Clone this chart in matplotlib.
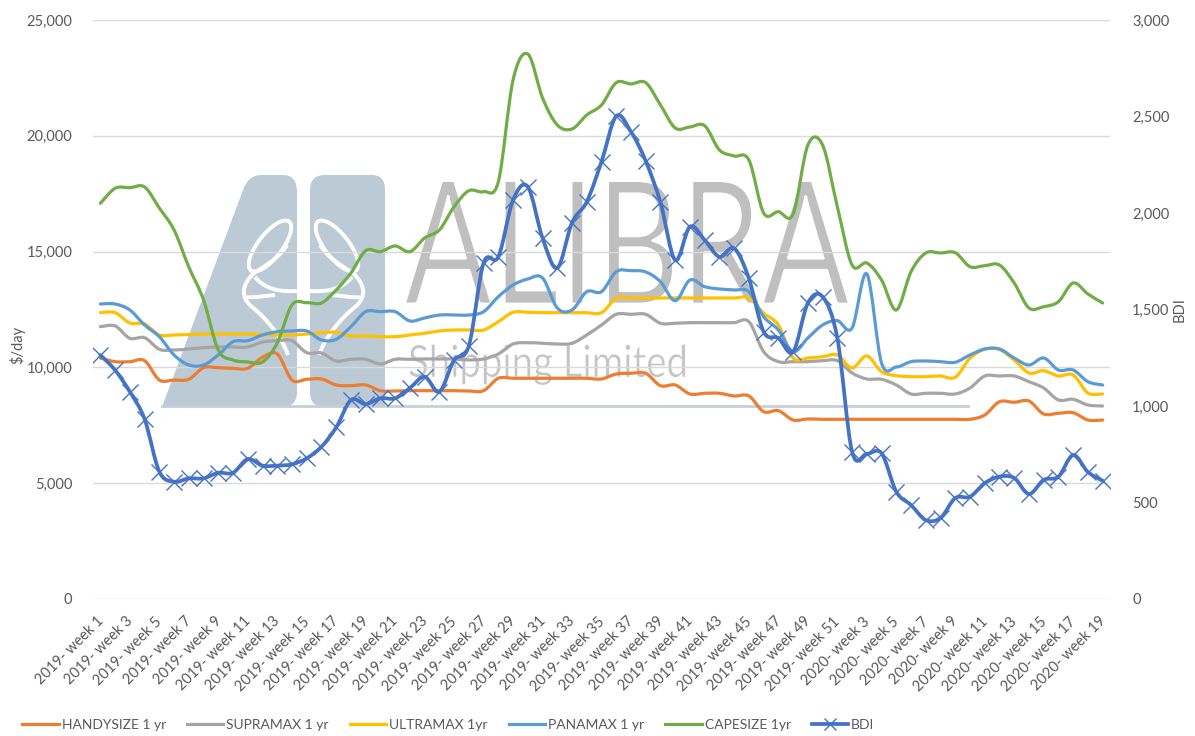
import numpy as np
import matplotlib
matplotlib.use('Agg')
import matplotlib.pyplot as plt
from matplotlib.lines import Line2D
from matplotlib.patches import PathPatch, Ellipse
from matplotlib.path import Path
from matplotlib.patheffects import AbstractPathEffect
from matplotlib.ticker import FuncFormatter
from matplotlib.transforms import Affine2D, ScaledTranslation

plt.rcParams['font.family'] = ['Lato', 'DejaVu Sans']

weeks = [f'2019- week {w}' for w in range(1, 53)] + [f'2020- week {w}' for w in range(3, 20)]

handysize = [10406, 10247, 10247, 10290, 9456, 9456, 9487, 9988, 9988, 9962,
             9962, 10437, 10579, 9456, 9487, 9500, 9241, 9211, 9241, 8994,
             8981, 8994, 8994, 8994, 8994, 8981, 8994, 9530, 9530, 9530,
             9530, 9530, 9530, 9530, 9500, 9715, 9746, 9746, 9211, 9241,
             8852, 8882, 8882, 8766, 8766, 8088, 8131, 7729, 7772, 7759,
             7759, 7759, 7759, 7759, 7759, 7759, 7759, 7759, 7759, 7759,
             7945, 8519, 8493, 8550, 7988, 8019, 8044, 7729, 7729]

supramax = [11758, 11788, 11257, 11283, 10782, 10752, 10795, 10851, 10881, 10881,
            10881, 11097, 11153, 11153, 10635, 10622, 10277, 10350, 10350, 10147,
            10350, 10350, 10363, 10363, 10363, 10320, 10363, 10579, 11011, 11067,
            11041, 11011, 11041, 11400, 11831, 12293, 12293, 12293, 11905, 11905,
            11931, 11931, 11931, 11931, 11974, 10678, 10247, 10247, 10247, 10290,
            10290, 9759, 9500, 9487, 9241, 8852, 8882, 8882, 8852, 9111,
            9629, 9629, 9629, 9383, 9111, 8593, 8623, 8377, 8334]

ultramax = [12362, 12362, 11918, 11875, 11400, 11400, 11420, 11440, 11440, 11440,
            11440, 11420, 11400, 11400, 11440, 11500, 11516, 11356, 11356, 11326,
            11326, 11400, 11473, 11572, 11615, 11615, 11615, 11974, 12380, 12380,
            12362, 12362, 12362, 12362, 12362, 12984, 12997, 12997, 12997, 12997,
            12997, 12997, 12997, 12997, 12997, 12336, 11831, 10406, 10406, 10463,
            10536, 9975, 10493, 9815, 9642, 9600, 9600, 9629, 9573, 10394,
            10780, 10770, 10320, 9759, 9858, 9629, 9672, 8895, 8852]

panamax = [12738, 12738, 12479, 11831, 11326, 10536, 10104, 10104, 10536, 11110,
           11153, 11400, 11542, 11572, 11572, 11184, 11214, 11758, 12406, 12406,
           12406, 12004, 12134, 12263, 12263, 12263, 12406, 13053, 13559, 13818,
           13861, 12565, 12479, 13269, 13269, 14133, 14176, 14120, 13701, 12881,
           13774, 13485, 13386, 13343, 13269, 12190, 11615, 10678, 11270, 11831,
           12017, 11702, 14034, 10190, 10018, 10247, 10277, 10247, 10221, 10536,
           10795, 10795, 10406, 10104, 10406, 9888, 9888, 9383, 9241]

capesize = [17086, 17734, 17760, 17790, 16883, 15933, 14336, 12911, 10752, 10320,
            10234, 10234, 11054, 12695, 12794, 12781, 13343, 14077, 15040, 14997,
            15243, 14997, 15588, 15933, 16940, 17630, 17587, 18019, 22410, 23533,
            21633, 20467, 20295, 20899, 21331, 22294, 22238, 22294, 21331, 20338,
            20381, 20437, 19388, 19129, 18956, 16667, 16724, 16624, 19600, 19600,
            16940, 14422, 14508, 13774, 12479, 14133, 14940, 14940, 14953, 14349,
            14392, 14422, 13645, 12565, 12621, 12838, 13645, 13170, 12781]

bdi = [1264, 1186, 1074, 932, 660, 608, 625, 625, 654, 654,
       725, 691, 691, 698, 729, 789, 889, 1031, 1010, 1040,
       1040, 1093, 1152, 1074, 1238, 1312, 1741, 1773, 2067, 2136,
       1870, 1715, 1950, 2058, 2266, 2502, 2421, 2269, 2055, 1756,
       1929, 1860, 1773, 1817, 1661, 1385, 1352, 1281, 1533, 1566,
       1352, 763, 752, 755, 556, 487, 409, 420, 523, 530,
       600, 634, 627, 544, 617, 634, 746, 658, 613]

names = ['HANDYSIZE 1 yr', 'SUPRAMAX 1 yr', 'ULTRAMAX 1yr', 'PANAMAX 1 yr', 'CAPESIZE 1yr']
colors = ['#ED7D31', '#A5A5A5', '#FFC000', '#5B9BD5', '#70AD47']
bdi_color = '#4472C4'
text_color = '#595959'


# the chart uses smoothed lines, same idea as the spreadsheet option
def smooth_path(x, y):
    pts = np.column_stack([x, y]).astype(float)
    before = np.vstack([pts[0], pts[:-1]])
    after = np.vstack([pts[1:], pts[-1]])
    tang = (after - before) / 6
    verts = [pts[0]]
    for i in range(len(pts) - 1):
        verts += [pts[i] + tang[i], pts[i + 1] - tang[i + 1], pts[i + 1]]
    codes = [Path.MOVETO] + [Path.CURVE4] * (len(verts) - 1)
    return Path(verts, codes)


# watermark font is narrow and thin: squeeze the glyphs and eat into them with a white edge
class ThinNarrow(AbstractPathEffect):
    def __init__(self, sx, x0, edge):
        super().__init__()
        self.sx, self.x0, self.edge = sx, x0, edge

    def draw_path(self, renderer, gc, tpath, affine, rgbFace=None):
        squeeze = Affine2D().translate(-self.x0, 0).scale(self.sx, 1).translate(self.x0, 0)
        gc0 = renderer.new_gc()
        gc0.copy_properties(gc)
        gc0.set_foreground('white')
        gc0.set_linewidth(self.edge)
        renderer.draw_path(gc0, tpath, affine + squeeze, rgbFace)
        gc0.restore()


fig = plt.figure(figsize=(11.95, 7.36), dpi=100, facecolor='white')

# watermark sits behind everything, in pixel coordinates
bg = fig.add_axes([0, 0, 1, 1], zorder=0)
bg.set_xlim(0, 1195)
bg.set_ylim(736, 0)
bg.axis('off')
logo = '#BCCAD5'
left_v = [(162, 407), (243, 190), (248, 175), (262, 175), (283, 175), (297, 175), (297, 192),
          (297, 392), (297, 407), (282, 407), (162, 407)]
left_c = [Path.MOVETO, Path.LINETO, Path.CURVE3, Path.CURVE3, Path.LINETO, Path.CURVE3, Path.CURVE3,
          Path.LINETO, Path.CURVE3, Path.CURVE3, Path.CLOSEPOLY]
bg.add_patch(PathPatch(Path(left_v, left_c), fc=logo, ec='none'))
right_v = [(310, 190), (310, 175), (325, 175), (372, 175), (385, 175), (385, 190),
           (385, 407), (324, 407), (310, 407), (310, 392), (310, 190)]
right_c = [Path.MOVETO, Path.CURVE3, Path.CURVE3, Path.LINETO, Path.CURVE3, Path.CURVE3,
           Path.LINETO, Path.LINETO, Path.CURVE3, Path.CURVE3, Path.CLOSEPOLY]
bg.add_patch(PathPatch(Path(right_v, right_c), fc=logo, ec='none'))
# ribbon knot in the logo, left side then mirrored
ribbons = [[(287, 245), (278, 260), (262, 267), (253, 274), (242, 285), (240, 297), (252, 307),
            (265, 317), (282, 337), (288, 355)],
           [(255, 277), (265, 290), (282, 292), (297, 291)],
           [(243, 297), (258, 298), (262, 296), (275, 295)]]
for r in ribbons:
    codes = [Path.MOVETO] + [Path.CURVE4] * (len(r) - 1)
    bg.add_patch(PathPatch(Path(r, codes), fc='none', ec='white', lw=2.8))
    mirrored = [(607 - a, b) for a, b in r]
    bg.add_patch(PathPatch(Path(mirrored, codes), fc='none', ec='white', lw=2.8))
bg.add_patch(Ellipse((270, 246), 24, 62, angle=-142, fc='none', ec='white', lw=2.8))
bg.add_patch(Ellipse((337, 246), 24, 62, angle=142, fc='none', ec='white', lw=2.8))
bg.plot([162, 968], [406, 406], color='#C6CFD7', lw=2)
bg.text(404, 304, 'ALIBRA', fontsize=124, color='#BFBFBF', ha='left', va='baseline',
        path_effects=[ThinNarrow(0.757, 404, 2.0)])
bg.text(408, 377, 'Shipping Limited', fontsize=32, color='#C4C4C4', ha='left', va='baseline',
        path_effects=[ThinNarrow(0.863, 408, 0.4)])

ax = fig.add_axes([93 / 1195, 1 - 599 / 736, (1110 - 93) / 1195, (599 - 20) / 736], zorder=1)
ax.patch.set_alpha(0)
x = np.arange(len(weeks))
for vals, col in zip([handysize, supramax, ultramax, panamax, capesize], colors):
    ax.add_patch(PathPatch(smooth_path(x, vals), fc='none', ec=col, lw=2.3, capstyle='round', zorder=3))

ax.set_xlim(-0.5, len(weeks) - 0.5)
ax.set_ylim(0, 25000)
ax.set_yticks(range(0, 25001, 5000))
ax.yaxis.set_major_formatter(FuncFormatter(lambda v, p: f'{int(v):,}'))
ax.set_xticks(x[::2])
ax.set_xticklabels(weeks[::2], rotation=45, ha='right', rotation_mode='anchor')
ax.grid(axis='y', color='#D9D9D9', lw=1)
ax.set_axisbelow(True)
ax.tick_params(axis='both', length=0, labelsize=10.5, labelcolor=text_color)
ax.tick_params(axis='x', pad=11)
ax.tick_params(axis='y', pad=15)
shift = ScaledTranslation(-3 / 72, 0, fig.dpi_scale_trans)
for lab in ax.get_xticklabels():
    lab.set_transform(lab.get_transform() + shift)
for s in ax.spines.values():
    s.set_visible(False)

ax2 = ax.twinx()
ax2.set_zorder(2)
ax2.patch.set_alpha(0)
ax2.add_patch(PathPatch(smooth_path(x, bdi), fc='none', ec=bdi_color, lw=2.7, capstyle='round', zorder=3))
ax2.plot(x, bdi, ls='none', marker='x', ms=11, mew=1, color=bdi_color, zorder=4)
ax2.set_ylim(0, 3000)
ax2.set_yticks(range(0, 3001, 500))
ax2.yaxis.set_major_formatter(FuncFormatter(lambda v, p: f'{int(v):,}'))
ax2.tick_params(axis='y', length=0, labelsize=10.5, labelcolor=text_color, pad=16)
for s in ax2.spines.values():
    s.set_visible(False)

fig.text(17 / 1195, 1 - 345 / 736, '$/day', rotation=90, fontsize=10.5, color=text_color, ha='center', va='center')
fig.text(1180 / 1195, 1 - 310 / 736, 'BDI', rotation=90, fontsize=10.5, color=text_color, ha='center', va='center')

handles = [Line2D([], [], color=c, lw=2.3) for c in colors]
handles.append(Line2D([], [], color=bdi_color, lw=2.7, marker='x', ms=8, mew=1))
fig.legend(handles, names + ['BDI'], ncol=6, frameon=False, fontsize=10, labelcolor=text_color,
           loc='center left', bbox_to_anchor=(22 / 1195, 1 - 725 / 736), handlelength=2.65,
           handletextpad=0.2, columnspacing=1.5, borderpad=0, borderaxespad=0)

fig.savefig('out.png', dpi=100)
